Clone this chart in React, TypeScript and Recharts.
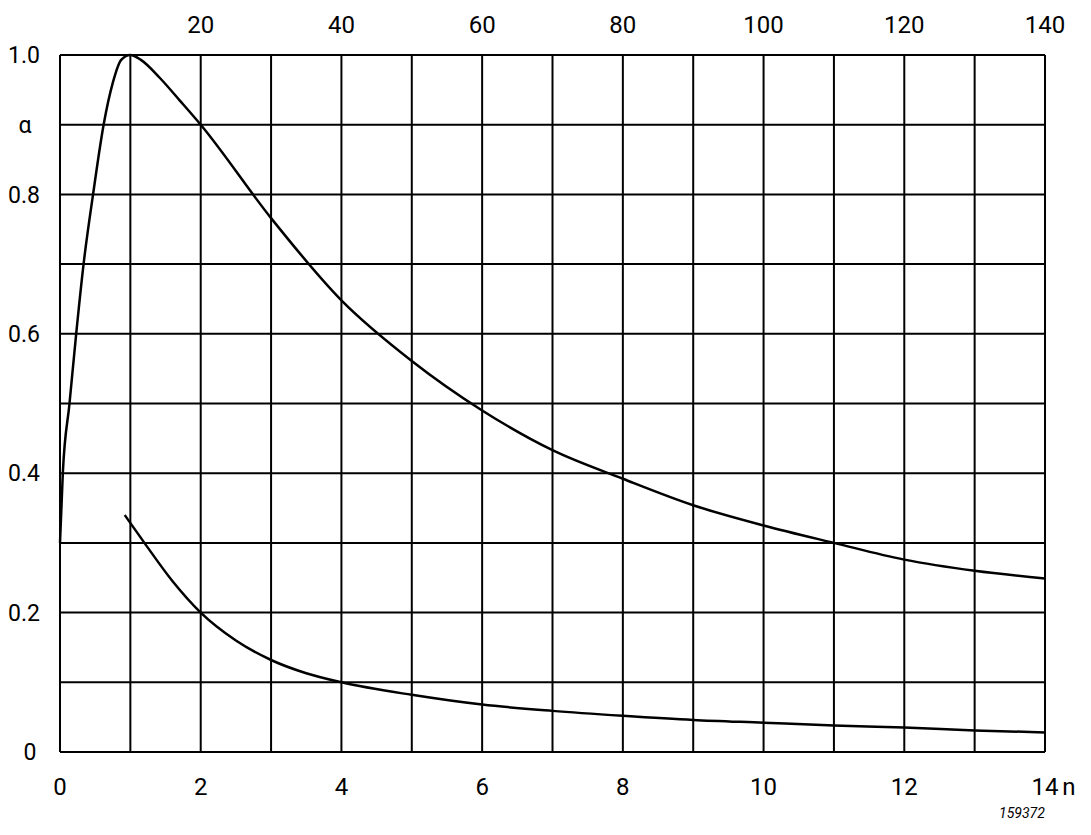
import { LineChart, Line, XAxis, YAxis, CartesianGrid } from 'recharts';

// upper curve (alpha vs n)
const upperN = [0, 0.04, 0.135, 0.23, 0.335, 0.47, 0.62, 0.75, 0.87, 1.0, 1.15, 1.42, 1.7, 2, 3, 4, 5, 6, 7, 8, 9, 10, 11, 12, 13, 14];
const upperAlpha = [0.3, 0.4, 0.5, 0.6, 0.7, 0.8, 0.9, 0.96, 0.993, 1.0, 0.993, 0.967, 0.935, 0.9, 0.766, 0.648, 0.561, 0.49, 0.433, 0.392, 0.354, 0.325, 0.3, 0.276, 0.26, 0.249];

// lower curve
const lowerN = [0.92, 1.2, 1.6, 2, 2.5, 3, 3.5, 4, 5, 6, 7, 8, 9, 10, 11, 12, 13, 14];
const lowerAlpha = [0.34, 0.3, 0.245, 0.2, 0.16, 0.132, 0.113, 0.1, 0.082, 0.068, 0.059, 0.052, 0.046, 0.042, 0.038, 0.035, 0.031, 0.028];

const xTicks = [0, 1, 2, 3, 4, 5, 6, 7, 8, 9, 10, 11, 12, 13, 14];
const topTicks = [2, 4, 6, 8, 10, 12, 14];
const yTicks = [0, 0.1, 0.2, 0.3, 0.4, 0.5, 0.6, 0.7, 0.8, 0.9, 1.0];

const upperData = upperN.map((n, i) => ({ n, a: upperAlpha[i] }));
const lowerData = lowerN.map((n, i) => ({ n, a: lowerAlpha[i] }));

const FONT = 'Roboto, "DejaVu Sans", sans-serif';

function BottomTick(props: any) {
  const { x, y, payload } = props;
  const v = payload.value;
  if (v % 2 !== 0) return null;
  return (
    <g>
      <text x={x} y={y} dy={35} textAnchor="middle" fontSize={24} fontFamily={FONT} fill="#000">
        {v}
      </text>
      {v === 14 && (
        <text x={x + 24} y={y} dy={35} textAnchor="middle" fontSize={24} fontFamily={FONT} fill="#000">
          n
        </text>
      )}
    </g>
  );
}

function TopTick(props: any) {
  const { x, y, payload } = props;
  return (
    <text x={x} y={y} dy={-14} textAnchor="middle" fontSize={24} fontFamily={FONT} fill="#000">
      {payload.value * 10}
    </text>
  );
}

function LeftTick(props: any) {
  const { y, payload } = props;
  const v = Math.round(payload.value * 10);
  let label = '';
  if (v === 0) label = '0';
  else if (v === 9) label = 'α';
  else if (v % 2 === 0) label = (v / 10).toFixed(1);
  if (!label) return null;
  const centered = v === 0 || v === 9;
  return (
    <text
      x={centered ? (v === 0 ? 30 : 25) : 8}
      y={y}
      dy="0.36em"
      textAnchor={centered ? 'middle' : 'start'}
      fontSize={23}
      fontFamily={FONT}
      fill="#000"
    >
      {label}
    </text>
  );
}

export default function App() {
  return (
    <div style={{ position: 'absolute', left: 0, top: 0, width: 1091, height: 835, background: '#fff' }}>
      <LineChart width={1091} height={835} margin={{ top: 25, right: 46, bottom: 53, left: 0 }}>
        <CartesianGrid xAxisId="bottom" stroke="#000" strokeWidth={2} />
        <XAxis
          xAxisId="bottom"
          dataKey="n"
          type="number"
          domain={[0, 14]}
          ticks={xTicks}
          interval={0}
          axisLine={false}
          tickLine={false}
          height={30}
          tick={<BottomTick />}
        />
        <XAxis
          xAxisId="top"
          dataKey="n"
          orientation="top"
          type="number"
          domain={[0, 14]}
          ticks={topTicks}
          interval={0}
          axisLine={false}
          tickLine={false}
          height={30}
          tick={<TopTick />}
        />
        <YAxis
          type="number"
          domain={[0, 1]}
          ticks={yTicks}
          interval={0}
          axisLine={false}
          tickLine={false}
          width={60}
          tick={<LeftTick />}
        />
        <Line
          xAxisId="top"
          data={upperData}
          dataKey="a"
          type="monotone"
          stroke="none"
          dot={false}
          activeDot={false}
          isAnimationActive={false}
        />
        <Line
          xAxisId="bottom"
          data={upperData}
          dataKey="a"
          type="monotone"
          stroke="#000"
          strokeWidth={2.5}
          dot={false}
          isAnimationActive={false}
        />
        <Line
          xAxisId="bottom"
          data={lowerData}
          dataKey="a"
          type="monotone"
          stroke="#000"
          strokeWidth={2.5}
          dot={false}
          isAnimationActive={false}
        />
      </LineChart>
      <div
        style={{
          position: 'absolute',
          left: 999,
          top: 805,
          fontFamily: FONT,
          fontStyle: 'italic',
          fontSize: 14,
          color: '#000',
        }}
      >
        159372
      </div>
    </div>
  );
}
